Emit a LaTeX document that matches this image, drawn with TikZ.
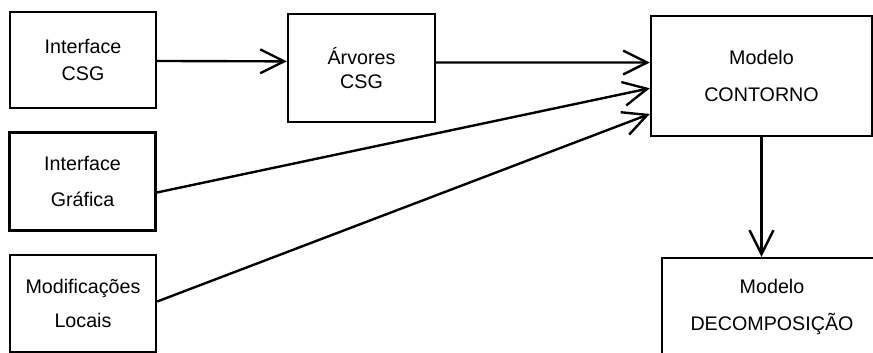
\documentclass[tikz,border=0pt]{standalone}
\usepackage{fontspec}
\setmainfont{Liberation Sans}
\usetikzlibrary{arrows.meta}
\usetikzlibrary{calc}
\tikzset{x=0.025cm, y=-0.025cm, % one unit per pixel, y grows downwards
block/.style={ % Sets the properties for each box
draw,
line width=1.7pt,
align=center,
inner sep=0pt,
font=\fontsize{14}{19}\selectfont},
flow/.style={ % Sets the properties for each arrow
draw,
line width=1.7pt,
-{Straight Barb[length=17pt,width=17pt,line width=1.7pt]}}}
\begin{document}
\begin{tikzpicture}
					\useasboundingbox (0,0) rectangle (873,353);

					\node[block, minimum width=3.65cm, minimum height=2.4cm] (csg) at (83,60) {Interface\\CSG};
					\node[block, minimum width=3.675cm, minimum height=2.7cm] (arv) at (361.5,68) {Árvores\\[-2pt]CSG};
					\node[block, minimum width=3.65cm, minimum height=2.45cm] (graf) at (82.5,181.5) {Interface\\[7pt]Gráfica};
					\node[block, minimum width=3.65cm, minimum height=2.425cm] (mod) at (83,303.5) {Modificações\\[5pt]Locais};
					\node[block, minimum width=5.525cm, minimum height=3cm] (cont) at (761.5,76) {Modelo\\[7pt]CONTORNO};
					\node[block, minimum width=5.5cm, minimum height=2.45cm] (dec) at (772,307) {Modelo\\[7pt]DECOMPOSIÇÃO};

					\draw[flow] ($(csg.north east)!0.51!(csg.south east)$) -- ($(arv.north west)!0.44!(arv.south west)$);
					\draw[flow] ($(arv.north east)!0.45!(arv.south east)$) -- ($(cont.north west)!0.39!(cont.south west)$);
					\draw[flow] ($(graf.north east)!0.61!(graf.south east)$) -- ($(cont.north west)!0.6!(cont.south west)$);
					\draw[flow] ($(mod.north east)!0.48!(mod.south east)$) -- ($(cont.north west)!0.81!(cont.south west)$);

					\draw[flow] (cont.south) -- (cont.south |- dec.north);
				\end{tikzpicture}
\end{document}
